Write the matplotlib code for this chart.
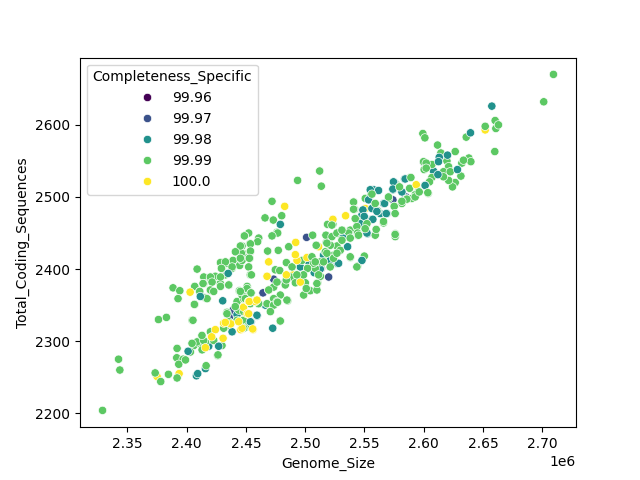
import matplotlib
matplotlib.use('Agg')
import matplotlib.pyplot as plt
import pandas as pd
import seaborn as sns

# (genome size in Mb, total coding sequences), grouped by completeness.
# The back groups are drawn first so the green cloud sits over them.
purple_x = [2.5135]
purple_y = [2401]

blue_x = [2.4369, 2.4391, 2.5012, 2.4734, 2.4644, 2.5198, 2.5212, 2.5178, 2.5740, 2.5850, 2.6000]
blue_y = [2335, 2343, 2444, 2386, 2367, 2389, 2406, 2423, 2496, 2500, 2548]

yellow_back_x = [2.375, 2.3936, 2.6519, 2.5507, 2.4692, 2.4897, 2.4481]
yellow_back_y = [2251, 2255, 2593, 2484, 2371, 2392, 2348]

teal_back_x = [2.4082, 2.4093, 2.4158, 2.4186, 2.4121, 2.4425, 2.4537, 2.4594, 2.4664, 2.4832,
               2.4959, 2.5029, 2.5156, 2.5212, 2.5268, 2.5128, 2.5479, 2.5633, 2.5690, 2.5740,
               2.6083, 2.5839, 2.5127, 2.5076, 2.5211, 2.5155, 2.5282, 2.5526, 2.545, 2.4425]
teal_back_y = [2252, 2255, 2262, 2293, 2363, 2336, 2327, 2335, 2350, 2382,
               2403, 2410, 2419, 2417, 2408, 2401, 2475, 2477, 2477, 2510,
               2536, 2525, 2400, 2395, 2412, 2419, 2408, 2449, 2462, 2337]

green_x = [2.329, 2.3425, 2.3436, 2.3734, 2.3781, 2.3846, 2.3919, 2.3919, 2.3916, 2.397,
           2.3933, 2.4164, 2.4262, 2.3762, 2.3829, 2.4046, 2.3885, 2.3942, 2.3927, 2.4088,
           2.4068, 2.4068, 2.411, 2.4158, 2.42, 2.4144, 2.4144, 2.4214, 2.42, 2.4242,
           2.4284, 2.4327, 2.4355, 2.4298, 2.429, 2.434, 2.4391, 2.4383, 2.4447, 2.4425,
           2.4473, 2.451, 2.4523, 2.4537, 2.451, 2.4447, 2.4425, 2.448, 2.4523, 2.4102,
           2.406, 2.4031, 2.399, 2.413, 2.42, 2.4158, 2.413, 2.4228, 2.4298, 2.4327,
           2.4355, 2.4425, 2.434, 2.444, 2.448, 2.451, 2.4936, 2.5122, 2.5136, 2.472,
           2.4661, 2.4731, 2.4802, 2.4762, 2.4768, 2.472, 2.4523, 2.4487, 2.4608, 2.4599,
           2.4532, 2.4537, 2.4532, 2.4467, 2.4461, 2.4467, 2.4683, 2.4773, 2.4861, 2.4546,
           2.5063, 2.5094, 2.4509, 2.4543, 2.4608, 2.4678, 2.4734, 2.4748, 2.4785, 2.4841,
           2.4889, 2.4953, 2.4875, 2.4832, 2.4917, 2.5001, 2.5021, 2.5015, 2.4987, 2.5043,
           2.5099, 2.5105, 2.5128, 2.5052, 2.5085, 2.5192, 2.5234, 2.5178, 2.5175, 2.5189,
           2.5234, 2.5268, 2.531, 2.538, 2.5437, 2.5442, 2.5381, 2.5442, 2.5499, 2.5409,
           2.5417, 2.5507, 2.5555, 2.5591, 2.576, 2.576, 2.5507, 2.5611, 2.5661, 2.5752,
           2.5768, 2.5704, 2.5858, 2.5451, 2.5226, 2.5268, 2.531, 2.5366, 2.5212, 2.517,
           2.5296, 2.5128, 2.5071, 2.4973, 2.4841, 2.4762, 2.479, 2.4734, 2.4692, 2.4734,
           2.479, 2.4852, 2.4762, 2.4467, 2.4495, 2.4537, 2.4481, 2.7095, 2.7013, 2.6603,
           2.6519, 2.6609, 2.6631, 2.66, 2.6359, 2.5993, 2.601, 2.6117, 2.6145, 2.6266,
           2.6381, 2.6398, 2.6322, 2.6336, 2.6196, 2.621, 2.6167, 2.6224, 2.6069, 2.5999,
           2.6021, 2.6004, 2.6021, 2.6314, 2.6266, 2.6243, 2.621, 2.6167, 2.6069, 2.6049,
           2.6038, 2.5957, 2.5928, 2.5858, 2.5886, 2.5881, 2.5816, 2.59, 2.4487, 2.4453,
           2.4538, 2.4411, 2.4538, 2.4453, 2.4529, 2.4285, 2.4327, 2.4293, 2.4383, 2.42,
           2.4285, 2.4138, 2.4214, 2.4285, 2.4355, 2.42, 2.411, 2.4445, 2.4607, 2.4706,
           2.4767, 2.4846, 2.4065, 2.4172, 2.4228, 2.4453, 2.4543, 2.4481, 2.441, 2.434,
           2.4312, 2.4087, 2.4143, 2.4129, 2.4045]
green_y = [2204, 2275, 2260, 2256, 2244, 2254, 2249, 2290, 2277, 2275,
           2268, 2266, 2280, 2330, 2333, 2329, 2374, 2370, 2359, 2400,
           2351, 2376, 2369, 2360, 2371, 2389, 2380, 2382, 2387, 2390,
           2380, 2392, 2378, 2401, 2409, 2408, 2412, 2401, 2405, 2424,
           2422, 2416, 2403, 2392, 2376, 2369, 2355, 2359, 2364, 2297,
           2294, 2285, 2274, 2305, 2313, 2299, 2288, 2301, 2294, 2320,
           2327, 2329, 2340, 2343, 2329, 2320, 2523, 2536, 2515, 2494,
           2471, 2468, 2474, 2451, 2450, 2446, 2450, 2446, 2443, 2438,
           2435, 2424, 2415, 2432, 2422, 2412, 2425, 2426, 2431, 2392,
           2447, 2433, 2373, 2367, 2352, 2352, 2375, 2399, 2398, 2409,
           2403, 2390, 2389, 2378, 2381, 2381, 2401, 2371, 2364, 2370,
           2371, 2381, 2390, 2417, 2401, 2412, 2419, 2437, 2447, 2462,
           2462, 2432, 2454, 2454, 2459, 2447, 2416, 2404, 2418, 2493,
           2483, 2498, 2503, 2447, 2445, 2449, 2469, 2481, 2464, 2487,
           2518, 2498, 2497, 2466, 2445, 2450, 2443, 2450, 2433, 2424,
           2426, 2410, 2408, 2412, 2385, 2382, 2364, 2359, 2371, 2350,
           2328, 2356, 2355, 2364, 2359, 2352, 2318, 2670, 2632, 2606,
           2598, 2595, 2600, 2563, 2583, 2588, 2582, 2572, 2561, 2563,
           2554, 2549, 2547, 2551, 2550, 2542, 2535, 2535, 2545, 2549,
           2547, 2538, 2540, 2529, 2520, 2514, 2523, 2528, 2527, 2521,
           2505, 2508, 2503, 2497, 2527, 2512, 2491, 2498, 2446, 2432,
           2435, 2424, 2425, 2415, 2415, 2409, 2410, 2401, 2403, 2389,
           2389, 2380, 2382, 2376, 2378, 2371, 2369, 2370, 2352, 2341,
           2354, 2357, 2351, 2359, 2369, 2369, 2367, 2341, 2348, 2338,
           2318, 2299, 2301, 2308, 2297]

teal_front_x = [2.4304, 2.435, 2.4383, 2.427, 2.4012, 2.479, 2.4726, 2.4543, 2.5479, 2.5358,
                2.5319, 2.5535, 2.5577, 2.5661, 2.5563, 2.5816, 2.5844, 2.5752, 2.6575, 2.6395,
                2.6201, 2.6131, 2.6285, 2.612, 2.601, 2.5816, 2.6125, 2.5549, 2.5619, 2.5745,
                2.574, 2.6012, 2.567, 2.5563, 2.5487, 2.5571, 2.5498, 2.5605, 2.5684, 2.5521,
                2.5464, 2.5211, 2.4537, 2.4593, 2.4115]
teal_front_y = [2356, 2394, 2313, 2293, 2286, 2462, 2318, 2327, 2412, 2431,
                2443, 2496, 2510, 2491, 2469, 2507, 2525, 2520, 2626, 2589,
                2558, 2555, 2538, 2531, 2516, 2507, 2549, 2510, 2509, 2521,
                2511, 2516, 2491, 2484, 2482, 2469, 2473, 2480, 2477, 2450,
                2463, 2412, 2327, 2336, 2362]

# greens that sit on top of the teal points in the dense part of the band
green_front_x = [2.5892, 2.5796, 2.5703, 2.5563, 2.5408, 2.5408, 2.5751, 2.5858, 2.5928, 2.5962,
                 2.6035, 2.5816, 2.5661, 2.5759, 2.5599, 2.5436, 2.5521, 2.5422, 2.5759, 2.5591,
                 2.5442, 2.545, 2.538, 2.5436, 2.5239, 2.531, 2.5225, 2.5183, 2.5093, 2.5057,
                 2.5155, 2.5085, 2.502, 2.4986, 2.493, 2.5113, 2.5099, 2.5009, 2.5211, 2.5268,
                 2.5183, 2.531, 2.538, 2.5506, 2.479, 2.4053, 2.4264]
green_front_y = [2527, 2514, 2500, 2504, 2493, 2483, 2487, 2497, 2500, 2507,
                 2506, 2494, 2466, 2477, 2455, 2459, 2463, 2470, 2448, 2491,
                 2450, 2447, 2417, 2403, 2415, 2454, 2461, 2436, 2433, 2417,
                 2410, 2410, 2401, 2392, 2392, 2392, 2380, 2373, 2403, 2422,
                 2422, 2440, 2443, 2456, 2328, 2329, 2281]

yellow_front_x = [2.4029, 2.4242, 2.4211, 2.4307, 2.4158, 2.4372, 2.4456, 2.448, 2.4523, 2.451,
                  2.4312, 2.4827, 2.5341, 2.5234, 2.492, 2.4692, 2.4931, 2.4917, 2.5015, 2.5113,
                  2.4678, 2.4841, 2.4959, 2.4523, 2.4523, 2.4579, 2.456, 2.4467, 2.5937, 2.4557,
                  2.4528, 2.4593, 2.4326, 2.4439]
yellow_front_y = [2368, 2316, 2306, 2304, 2291, 2324, 2316, 2347, 2355, 2338,
                  2325, 2487, 2474, 2469, 2437, 2410, 2412, 2420, 2416, 2431,
                  2390, 2392, 2382, 2355, 2338, 2355, 2316, 2318, 2517, 2317,
                  2355, 2357, 2326, 2327]

layers = [
    (purple_x, purple_y, 99.96),
    (blue_x, blue_y, 99.97),
    (yellow_back_x, yellow_back_y, 100.0),
    (teal_back_x, teal_back_y, 99.98),
    (green_x, green_y, 99.99),
    (teal_front_x, teal_front_y, 99.98),
    (yellow_front_x, yellow_front_y, 100.0),
    (green_front_x, green_front_y, 99.99),
]

rows = []
for xs, ys, comp in layers:
    for x, y in zip(xs, ys):
        rows.append({'Genome_Size': x * 1e6, 'Total_Coding_Sequences': y, 'Completeness_Specific': comp})
df = pd.DataFrame(rows)

fig, ax = plt.subplots(figsize=(6.4, 4.8), dpi=100)
sns.scatterplot(data=df, x='Genome_Size', y='Total_Coding_Sequences',
                hue='Completeness_Specific', palette='viridis', ax=ax)
fig.savefig('out.png', dpi=100)
